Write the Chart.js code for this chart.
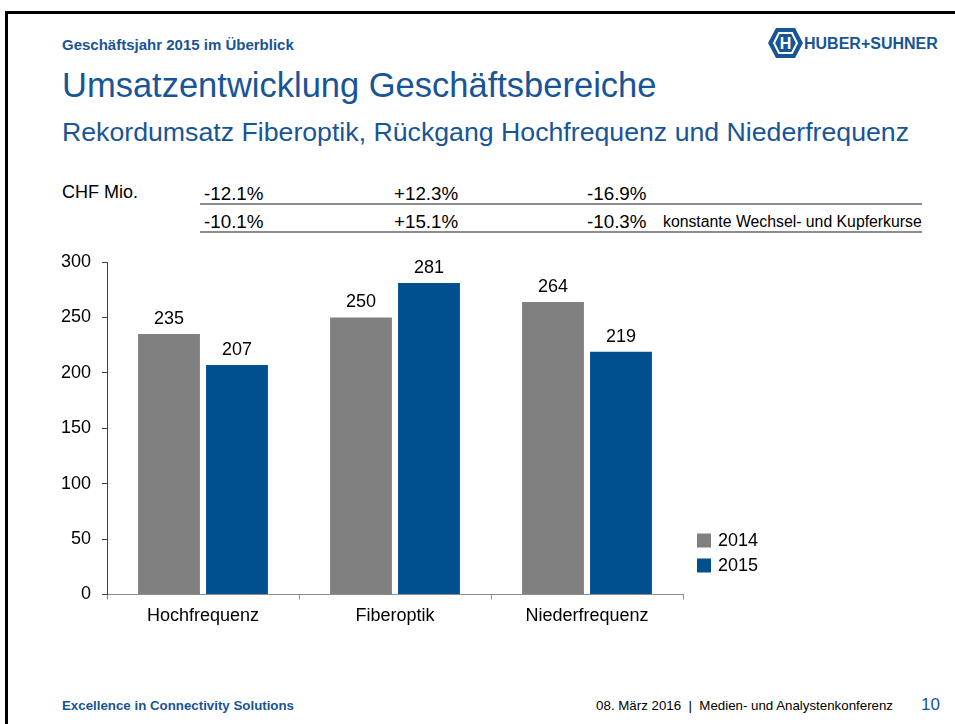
<!DOCTYPE html>
<html>
<head>
<meta charset="utf-8">
<script src="https://cdn.jsdelivr.net/npm/chart.js@4/dist/chart.umd.min.js"></script>
<style>
  html, body { margin: 0; padding: 0; background: #fff; }
  body { width: 955px; height: 724px; position: relative; overflow: hidden; font-family: Arial, "Liberation Sans", sans-serif; }
  .abs { position: absolute; white-space: nowrap; }
  .frame { left: 5px; top: 11px; width: 960px; height: 720px; border-top: 3px solid #000; border-left: 3px solid #000; }
  .blue { color: #185597; }
  .rule { position: absolute; left: 200px; width: 722px; height: 0; border-top: 2px solid #8c8c8c; }
  #chartWrap { position: absolute; left: 0; top: 240px; width: 955px; height: 400px; }
</style>
</head>
<body>
<div class="abs frame"></div>

<div class="abs blue" style="left:62px; top:37px; font-size:15px; line-height:15px; font-weight:bold;">Geschäftsjahr 2015 im Überblick</div>

<!-- logo -->
<svg class="abs" style="left:766px; top:26px;" width="180" height="36" viewBox="0 0 180 36">
  <polygon points="2,17 10,2 29,2 37,17 29,32 10,32" fill="#185597"/>
  <polygon points="8,17 13,7 26,7 31,17 26,27 13,27" fill="none" stroke="#fff" stroke-width="2"/>
  <text x="19.5" y="23" text-anchor="middle" font-family="Arial, 'Liberation Sans', sans-serif" font-weight="bold" font-size="16" fill="#fff">H</text>
  <text x="38" y="23" font-family="Arial, 'Liberation Sans', sans-serif" font-weight="bold" font-size="16" fill="#185597">HUBER+SUHNER</text>
</svg>

<div class="abs blue" style="left:62px; top:68px; font-size:34.5px; line-height:34.5px;">Umsatzentwicklung Geschäftsbereiche</div>
<div class="abs blue" style="left:62px; top:119px; font-size:26.7px; line-height:26.7px;">Rekordumsatz Fiberoptik, Rückgang Hochfrequenz und Niederfrequenz</div>

<div class="abs" style="left:62px; top:183px; font-size:18px; line-height:18px;">CHF Mio.</div>
<div id="row1"></div>
<div class="rule" style="top:203px;"></div>
<div id="row2"></div>
<div class="abs" style="left:663px; top:214px; font-size:15.8px; line-height:16px;">konstante Wechsel- und Kupferkurse</div>
<div class="rule" style="top:231px;"></div>

<div id="chartWrap"><canvas id="salesChart" width="955" height="400"></canvas></div>

<div class="abs blue" style="left:62px; top:699px; font-size:13.3px; line-height:13px; font-weight:bold;">Excellence in Connectivity Solutions</div>
<div class="abs" style="right:62px; top:699px; font-size:13.3px; line-height:13px;">08. März 2016&nbsp; |&nbsp; Medien- und Analystenkonferenz</div>
<div class="abs blue" style="left:921px; top:696px; font-size:17px; line-height:17px;">10</div>

<script>
const categories = ['Hochfrequenz', 'Fiberoptik', 'Niederfrequenz'];
const seriesLabels = ['2014', '2015'];
const sales2014 = [235, 250, 264];
const sales2015 = [207, 281, 219];
const changeReported = ['-12.1%', '+12.3%', '-16.9%'];
const changeConstant = ['-10.1%', '+15.1%', '-10.3%'];
const yTicks = [0, 50, 100, 150, 200, 250, 300];

const gray = '#808080';
const blue = '#00508f';

// percentage rows above the chart
const colX = [204, 394, 587];
function fillRow(id, values, top) {
    const row = document.getElementById(id);
    values.forEach((v, i) => {
        const d = document.createElement('div');
        d.className = 'abs';
        d.style.cssText = `left:${colX[i]}px; top:${top}px; font-size:18.8px; line-height:19px;`;
        d.textContent = v;
        row.appendChild(d);
    });
}
fillRow('row1', changeReported, 184);
fillRow('row2', changeConstant, 212);

Chart.defaults.font.family = 'Arial, "Liberation Sans", sans-serif';
Chart.defaults.color = '#000';

// value labels above bars
const valueLabels = {
    id: 'valueLabels',
    afterDatasetsDraw(chart) {
        const ctx = chart.ctx;
        ctx.save();
        ctx.font = '18px Arial, "Liberation Sans", sans-serif';
        ctx.fillStyle = '#000';
        ctx.textAlign = 'center';
        ctx.textBaseline = 'alphabetic';
        chart.data.datasets.forEach((ds, di) => {
            chart.getDatasetMeta(di).data.forEach((bar, i) => {
                ctx.fillText(ds.data[i], bar.x, bar.y - 10);
            });
        });
        ctx.restore();
    }
};

// legend at the right of the plot, near the bottom
const sideLegend = {
    id: 'sideLegend',
    afterDraw(chart) {
        const ctx = chart.ctx;
        const area = chart.chartArea;
        ctx.save();
        ctx.font = '18px Arial, "Liberation Sans", sans-serif';
        ctx.textBaseline = 'middle';
        chart.data.datasets.forEach((ds, i) => {
            const x = area.right + 14;
            const y = area.bottom - 61 + i * 25;
            ctx.fillStyle = ds.backgroundColor;
            ctx.fillRect(x, y, 14, 14);
            ctx.fillStyle = '#000';
            ctx.fillText(ds.label, x + 21, y + 8);
        });
        ctx.restore();
    }
};

const ctx = document.getElementById('salesChart').getContext('2d');
new Chart(ctx, {
    type: 'bar',
    data: {
        labels: categories,
        datasets: [
            { label: seriesLabels[0], data: sales2014, backgroundColor: gray },
            { label: seriesLabels[1], data: sales2015, backgroundColor: blue }
        ]
    },
    options: {
        responsive: false,
        animation: false,
        categoryPercentage: 0.708,
        barPercentage: 0.91,
        layout: { padding: { top: 22, right: 272, left: 0, bottom: 0 } },
        plugins: {
            legend: { display: false },
            tooltip: { enabled: false }
        },
        scales: {
            x: {
                border: { color: '#8c8c8c', width: 1 },
                grid: { drawOnChartArea: false, tickLength: 5, color: '#8c8c8c', offset: true },
                ticks: { font: { size: 18 }, padding: 6 },
                afterFit(scale) { scale.height = 45.5; }
            },
            y: {
                min: 0,
                max: 300,
                border: { color: '#404040', width: 1 },
                grid: { drawOnChartArea: false, tickLength: 5, color: '#404040' },
                afterBuildTicks(scale) { scale.ticks = yTicks.map(v => ({ value: v })); },
                ticks: { font: { size: 18 }, padding: 11 },
                afterFit(scale) { scale.width = 107; }
            }
        }
    },
    plugins: [valueLabels, sideLegend]
});
</script>
</body>
</html>
